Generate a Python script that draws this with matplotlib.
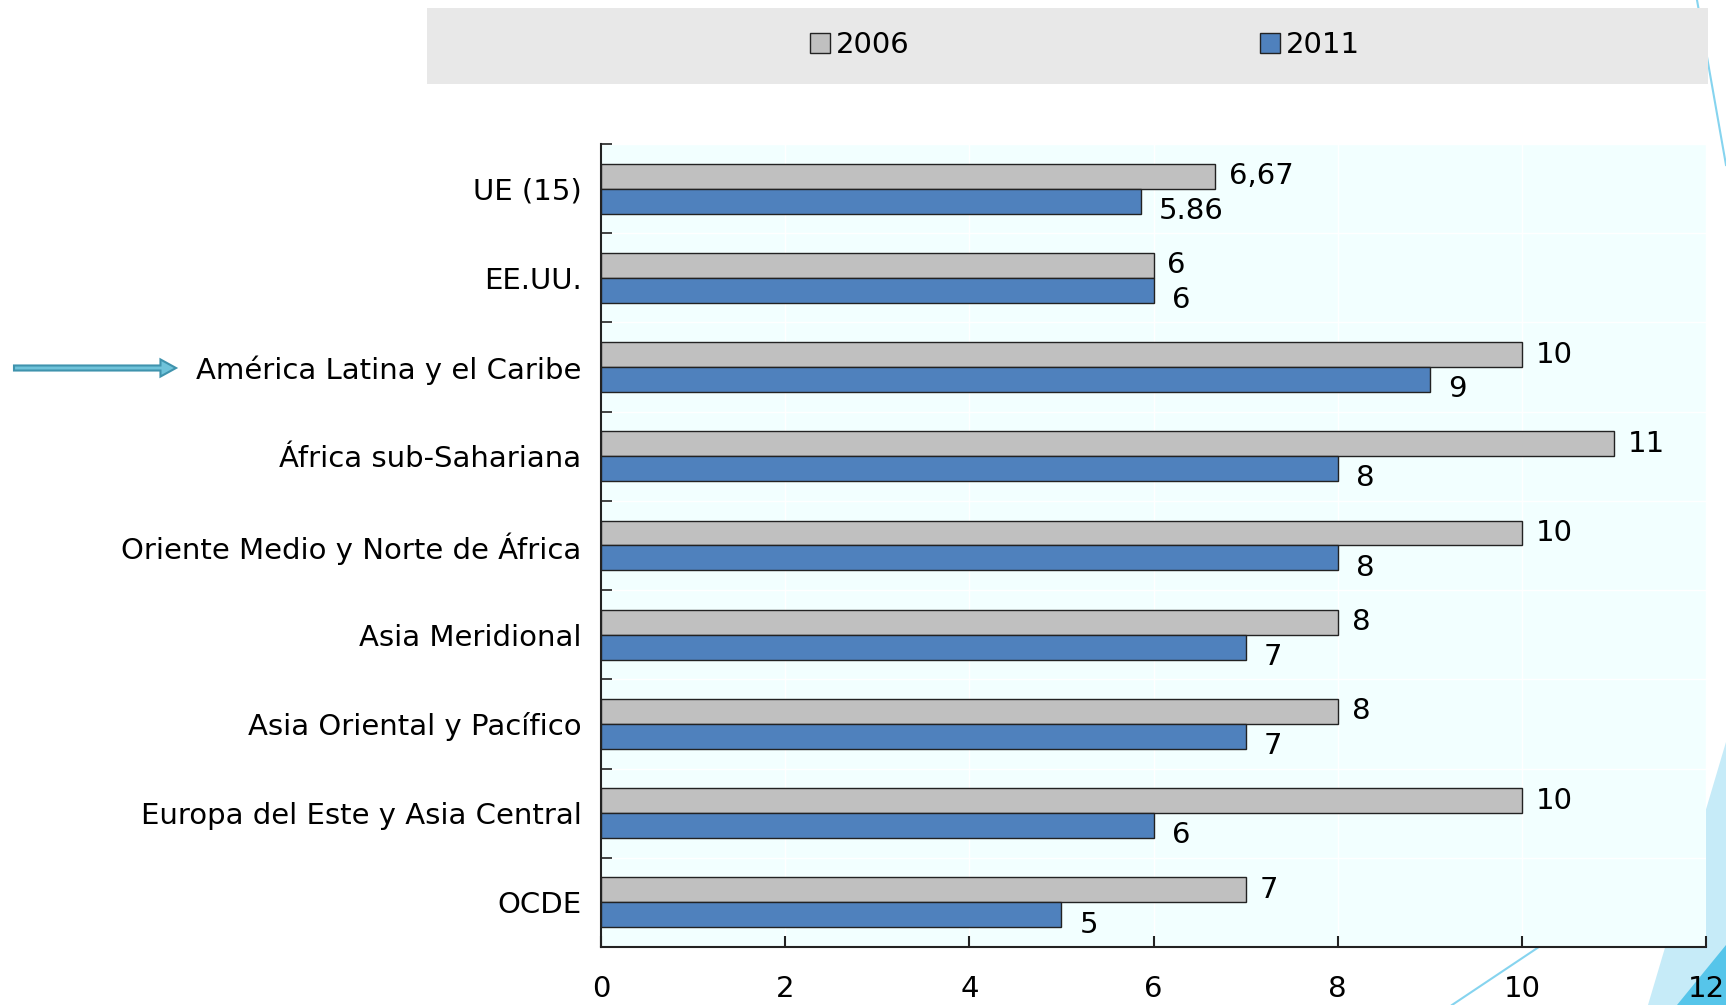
import matplotlib
matplotlib.use("Agg")
import matplotlib.pyplot as plt
from matplotlib.patches import Rectangle, Polygon, FancyArrow
from matplotlib.lines import Line2D
import numpy as np

# === Data ===
categories = [
    "UE (15)",
    "EE.UU.",
    "América Latina y el Caribe",
    "África sub-Sahariana",
    "Oriente Medio y Norte de África",
    "Asia Meridional",
    "Asia Oriental y Pacífico",
    "Europa del Este y Asia Central",
    "OCDE",
]
values_2006 = [6.67, 6, 10, 11, 10, 8, 8, 10, 7]
values_2011 = [5.86, 6, 9, 8, 8, 7, 7, 6, 5]
labels_2006 = ["6,67", "6", "10", "11", "10", "8", "8", "10", "7"]
labels_2011 = ["5.86", "6", "9", "8", "8", "7", "7", "6", "5"]
series_names = ["2006", "2011"]
xticks = [0, 2, 4, 6, 8, 10, 12]

W, H = 1726, 1005
FS = 21
plt.rcParams["font.family"] = ["DejaVu Sans"]
fig = plt.figure(figsize=(W / 100, H / 100), dpi=100)

# === slide decorations (figure pixel coords) ===
def fx(x):
    return x / W

def fy(y):
    return 1 - y / H

fig.patches.append(Polygon([(fx(1726), fy(742)), (fx(1648), fy(1005)), (fx(1726), fy(1005))],
                           closed=True, transform=fig.transFigure, facecolor="#C6EBF8",
                           edgecolor="none", zorder=-2))
fig.patches.append(Polygon([(fx(1677), fy(1005)), (fx(1726), fy(945)), (fx(1726), fy(1005))],
                           closed=True, transform=fig.transFigure, facecolor="#56C5EA",
                           edgecolor="none", zorder=-2))
fig.lines.append(Line2D([fx(1452), fx(1726)], [fy(1005), fy(822)], transform=fig.transFigure,
                        color="#86D4EF", lw=1.5, zorder=-2))
fig.lines.append(Line2D([fx(1697), fx(1726)], [fy(0), fy(165)], transform=fig.transFigure,
                        color="#86D4EF", lw=1.5, zorder=-2))

# legend band
fig.patches.append(Rectangle((fx(427), fy(84)), fx(1708) - fx(427), fy(8) - fy(84),
                             transform=fig.transFigure, facecolor="#E8E8E8",
                             edgecolor="none", zorder=-1))

# === Axes ===
ax = fig.add_axes([fx(601), fy(947), fx(1706) - fx(601), fy(144) - fy(947)])
ax.set_zorder(2)
ax.set_facecolor("#F2FFFF")

y = np.arange(len(categories))
h = 0.28
c2006 = "#C0C0C0"
c2011 = "#4F81BD"
b1 = ax.barh(y - h / 2, values_2006, height=h, color=c2006, edgecolor="#222222",
             linewidth=1.0, label=series_names[0], zorder=3)
b2 = ax.barh(y + h / 2, values_2011, height=h, color=c2011, edgecolor="#222222",
             linewidth=1.0, label=series_names[1], zorder=3)

for i in range(len(categories)):
    ax.annotate(labels_2006[i], (values_2006[i], y[i] - h / 2), xytext=(10, 0),
                textcoords="offset points", va="center", ha="left", fontsize=FS)
    ax.annotate(labels_2011[i], (values_2011[i], y[i] + h / 2), xytext=(13, -7),
                textcoords="offset points", va="center", ha="left", fontsize=FS)

ax.set_xlim(0, 12)
ax.set_ylim(len(categories) - 0.5, -0.5)
ax.set_xticks(xticks)
ax.set_xticklabels([str(t) for t in xticks])
ax.set_yticks(y)
ax.set_yticklabels(categories)
ax.set_yticks(np.arange(len(categories) + 1) - 0.5, minor=True)

ax.tick_params(axis="y", which="major", length=0, pad=14, labelsize=FS)
ax.tick_params(axis="y", which="minor", direction="in", length=8, width=1.2, color="#222222")
ax.tick_params(axis="x", which="major", direction="in", length=8, width=1.5, pad=20,
               labelsize=FS, color="#222222")

for side in ["top", "right"]:
    ax.spines[side].set_visible(False)
ax.spines["left"].set_linewidth(1.5)
ax.spines["bottom"].set_linewidth(1.5)
ax.spines["left"].set_color("#222222")
ax.spines["bottom"].set_color("#222222")

ax.grid(axis="x", which="major", color="white", lw=1, zorder=0)
ax.grid(axis="y", which="minor", color="white", lw=1, zorder=0)
ax.set_axisbelow(True)

# === legend ===
leg = fig.legend(handles=[b1, b2], loc="center", bbox_to_anchor=(fx(1085), fy(45)),
                 ncol=2, frameon=False, fontsize=FS, handlelength=0.7, handleheight=0.7,
                 handletextpad=0.2, columnspacing=12.0)

# === arrow pointing at América Latina ===
fig.patches.append(FancyArrow(fx(14), fy(368), fx(176) - fx(14), 0, width=0.005,
                              head_width=0.017, head_length=0.009, length_includes_head=True,
                              transform=fig.transFigure, facecolor="#6FC3DA",
                              edgecolor="#3F93AD", lw=1.5))

fig.savefig("out.png", dpi=100)
